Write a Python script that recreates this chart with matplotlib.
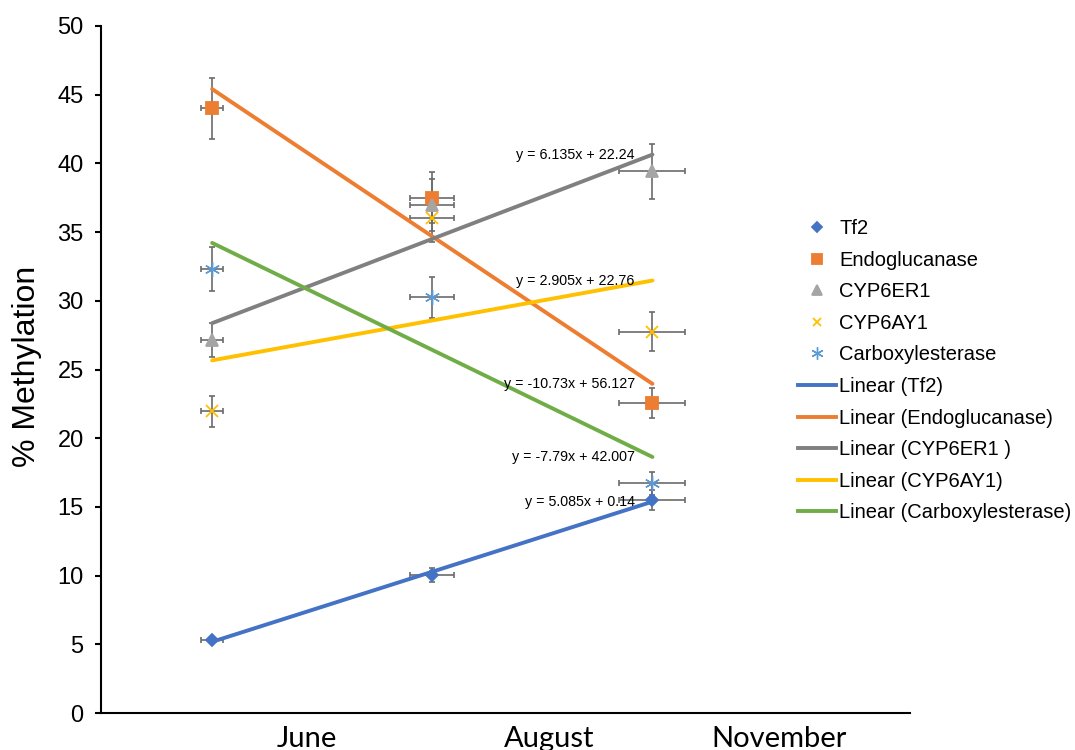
import numpy as np
import matplotlib.pyplot as plt
from matplotlib.lines import Line2D

plt.rcParams['font.family'] = ['Liberation Sans', 'DejaVu Sans']

# sampling months (x = 1, 2, 3)
months = ['June', 'August', 'November']
x = [1, 2, 3]
x_err = [0.05, 0.10, 0.15]

genes = ['Tf2', 'Endoglucanase', 'CYP6ER1', 'CYP6AY1', 'Carboxylesterase']
trend_labels = ['Linear (Tf2)', 'Linear (Endoglucanase)', 'Linear (CYP6ER1 )',
                'Linear (CYP6AY1)', 'Linear (Carboxylesterase)']

# % methylation per gene
tf2 = [5.3, 10.05, 15.5]
endoglucanase = [44.0, 37.5, 22.55]
cyp6er1 = [27.15, 36.95, 39.42]
cyp6ay1 = [21.95, 36.0, 27.76]
carboxylesterase = [32.3, 30.25, 16.72]

# vertical error bars
tf2_err = [0.15, 0.5, 0.75]
endoglucanase_err = [2.2, 1.85, 1.1]
cyp6er1_err = [1.25, 1.9, 2.0]
cyp6ay1_err = [1.1, 1.75, 1.4]
carboxylesterase_err = [1.6, 1.5, 0.85]

# trendline equations as printed on the chart
equations = ['y = 5.085x + 0.14', 'y = -10.73x + 56.127', 'y = 6.135x + 22.24',
             'y = 2.905x + 22.76', 'y = -7.79x + 42.007']

values = [tf2, endoglucanase, cyp6er1, cyp6ay1, carboxylesterase]
errors = [tf2_err, endoglucanase_err, cyp6er1_err, cyp6ay1_err, carboxylesterase_err]

marker_colors = ['#4472C4', '#ED7D31', '#A5A5A5', '#FFC000', '#5B9BD5']
line_colors = ['#4472C4', '#ED7D31', '#808080', '#FFC000', '#70AD47']
markers = ['D', 's', '^', 'x', (6, 2, 0)]
msizes = [6, 8.5, 9, 8, 11]
mews = [1.3, 1.3, 1.3, 1.3, 1.0]

fig = plt.figure(figsize=(10.75, 7.5), dpi=100)
ax = fig.add_axes([101 / 1075, 37 / 750, 809 / 1075, 687 / 750])

for i in range(5):
    ax.errorbar(x, values[i], yerr=errors[i], xerr=x_err, fmt='none',
                ecolor='#6b6b6b', elinewidth=1.2, capsize=2.5, capthick=1.2, zorder=2)
    fit = np.polyfit(x, values[i], 1)
    xs = np.array([x[0], x[-1]])
    ax.plot(xs, np.polyval(fit, xs), color=line_colors[i], lw=2.8,
            solid_capstyle='round', zorder=3)
    ax.plot(x, values[i], ls='none', marker=markers[i], ms=msizes[i],
            color=marker_colors[i], mew=mews[i], zorder=4)
    ax.text(2.92, np.polyval(fit, 3), equations[i], ha='right', va='center',
            fontsize=10.3, zorder=5)

ax.set_xlim(0.495, 4.17)
ax.set_ylim(0, 50)
ax.set_yticks(range(0, 51, 5))
ax.spines['top'].set_visible(False)
ax.spines['right'].set_visible(False)
ax.spines['left'].set_linewidth(1.5)
ax.spines['bottom'].set_linewidth(1.5)
ax.tick_params(axis='y', labelsize=17, length=4.5, width=1.5, pad=8)
ax.tick_params(axis='x', length=0, labelbottom=False)

fig.text(27 / 1075, 1 - 366 / 750, '% Methylation', rotation=90,
         ha='center', va='center', fontsize=23)

# month labels below the axis
month_x = [1.43, 2.53, 3.575]
for mx, m in zip(month_x, months):
    ax.text(mx, -0.019, m, transform=ax.get_xaxis_transform(), ha='center',
            va='top', fontsize=21, family=['Lato', 'DejaVu Sans'], clip_on=False)

handles = []
for i in range(5):
    handles.append(Line2D([], [], ls='none', marker=markers[i], ms=msizes[i] * 0.8,
                          color=marker_colors[i], mew=mews[i], label=genes[i]))
for i in range(5):
    handles.append(Line2D([], [], color=line_colors[i], lw=2.8, label=trend_labels[i]))

fig.legend(handles=handles, loc='upper left', bbox_to_anchor=(780 / 1075, 1 - 201 / 750),
           frameon=False, fontsize=14.5, handlelength=1.89, handletextpad=0.15,
           labelspacing=0.625, borderpad=0.4)

plt.savefig('out.png', dpi=100)
